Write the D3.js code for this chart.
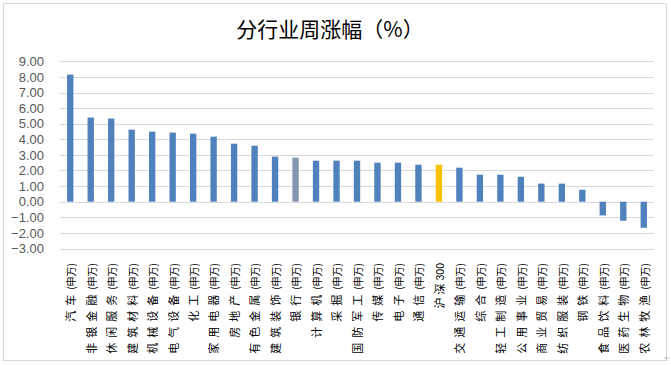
<!DOCTYPE html>
<html>
<head>
<meta charset="utf-8">
<script src="https://cdn.jsdelivr.net/npm/d3@7"></script>
<style>
  html, body { margin: 0; padding: 0; background: #fff; }
  svg { display: block; }
</style>
</head>
<body>
<svg id="chart" width="671" height="365"></svg>
<script>
const title = "分行业周涨幅（%）";
const categories = ["汽车(申万)", "非银金融(申万)", "休闲服务(申万)", "建筑材料(申万)", "机械设备(申万)", "电气设备(申万)", "化工(申万)", "家用电器(申万)", "房地产(申万)", "有色金属(申万)", "建筑装饰(申万)", "银行(申万)", "计算机(申万)", "采掘(申万)", "国防军工(申万)", "传媒(申万)", "电子(申万)", "通信(申万)", "沪深300", "交通运输(申万)", "综合(申万)", "轻工制造(申万)", "公用事业(申万)", "商业贸易(申万)", "纺织服装(申万)", "钢铁(申万)", "食品饮料(申万)", "医药生物(申万)", "农林牧渔(申万)"];
const values = [8.15, 5.39, 5.33, 4.62, 4.49, 4.43, 4.36, 4.17, 3.72, 3.59, 2.89, 2.82, 2.63, 2.63, 2.63, 2.50, 2.50, 2.37, 2.37, 2.18, 1.73, 1.73, 1.60, 1.16, 1.16, 0.77, -0.88, -1.22, -1.67];
const yTicks = [-3, -2, -1, 0, 1, 2, 3, 4, 5, 6, 7, 8, 9];
const highlight = {"银行(申万)": "#8497b0", "沪深300": "#ffc000"};
const baseColor = "#4f81bd";

const svg = d3.select("#chart");

// outer frame
svg.append("rect").attr("x", 3.5).attr("y", 3.5).attr("width", 663).attr("height", 357)
  .attr("fill", "#fff").attr("stroke", "#d9d9d9").attr("stroke-width", 1);

// title
svg.append("text").attr("x", 330).attr("y", 37).attr("text-anchor", "middle")
  .attr("font-family", "'Noto Sans CJK SC', sans-serif").attr("font-size", 21)
  .attr("fill", "#000").text(title);

const x = d3.scaleBand().domain(categories).range([60, 654]).padding(0);
const y = d3.scaleLinear().domain([-3, 9]).range([248.5, 61.3]);

// gridlines
svg.append("g").selectAll("line").data(yTicks).join("line")
  .attr("x1", 60).attr("x2", 654)
  .attr("y1", d => Math.round(y(d)) + 0.5).attr("y2", d => Math.round(y(d)) + 0.5)
  .attr("stroke", "#d9d9d9").attr("stroke-width", 1);

// y axis labels
const yAxis = d3.axisLeft(y).tickValues(yTicks).tickFormat(d3.format(".2f")).tickSize(0).tickPadding(0);
const yg = svg.append("g").attr("transform", "translate(44,0)").call(yAxis);
yg.select(".domain").remove();
yg.selectAll("text").attr("font-family", "'Liberation Sans', Arial, sans-serif")
  .attr("font-size", 13).attr("fill", "#595959");

// bars
const barW = x.bandwidth() * 0.31;
svg.append("g").selectAll("rect").data(categories).join("rect")
  .attr("x", d => x(d) + (x.bandwidth() - barW) / 2)
  .attr("width", barW)
  .attr("y", (d, i) => y(Math.max(0, values[i])))
  .attr("height", (d, i) => Math.abs(y(values[i]) - y(0)))
  .attr("fill", d => highlight[d] || baseColor);

// x labels (rotated)
const xAxis = d3.axisBottom(x).tickSize(0).tickPadding(0);
const xg = svg.append("g").attr("transform", "translate(0,263)").call(xAxis);
xg.select(".domain").remove();
xg.selectAll("text")
  .attr("font-family", "'Noto Sans CJK SC', sans-serif").attr("font-size", 11).attr("fill", "#000")
  .attr("text-anchor", "end").attr("dy", "0.35em").attr("y", 0).attr("x", 0)
  .attr("transform", "translate(1,0) rotate(-90)")
  .each(function(d) {
    const t = d3.select(this);
    const m = d.match(/^([^(0-9]+)(.*)$/);
    const name = m ? m[1] : d, rest = m ? m[2] : "";
    t.text(null);
    t.append("tspan").attr("letter-spacing", rest.startsWith("(") ? 5 : 3).text(name);
    t.append("tspan").attr("font-size", rest.startsWith("(") ? 10 : 10.5)
      .attr("font-family", rest.startsWith("(") ? null : "'Liberation Sans', Arial, sans-serif")
      .text(rest);
  });

// small resize mark at corner
svg.append("path").attr("d", "M666.5,355 v6 M663.5,358 h6").attr("stroke", "#bfbfbf").attr("stroke-width", 1);
</script>
</body>
</html>
